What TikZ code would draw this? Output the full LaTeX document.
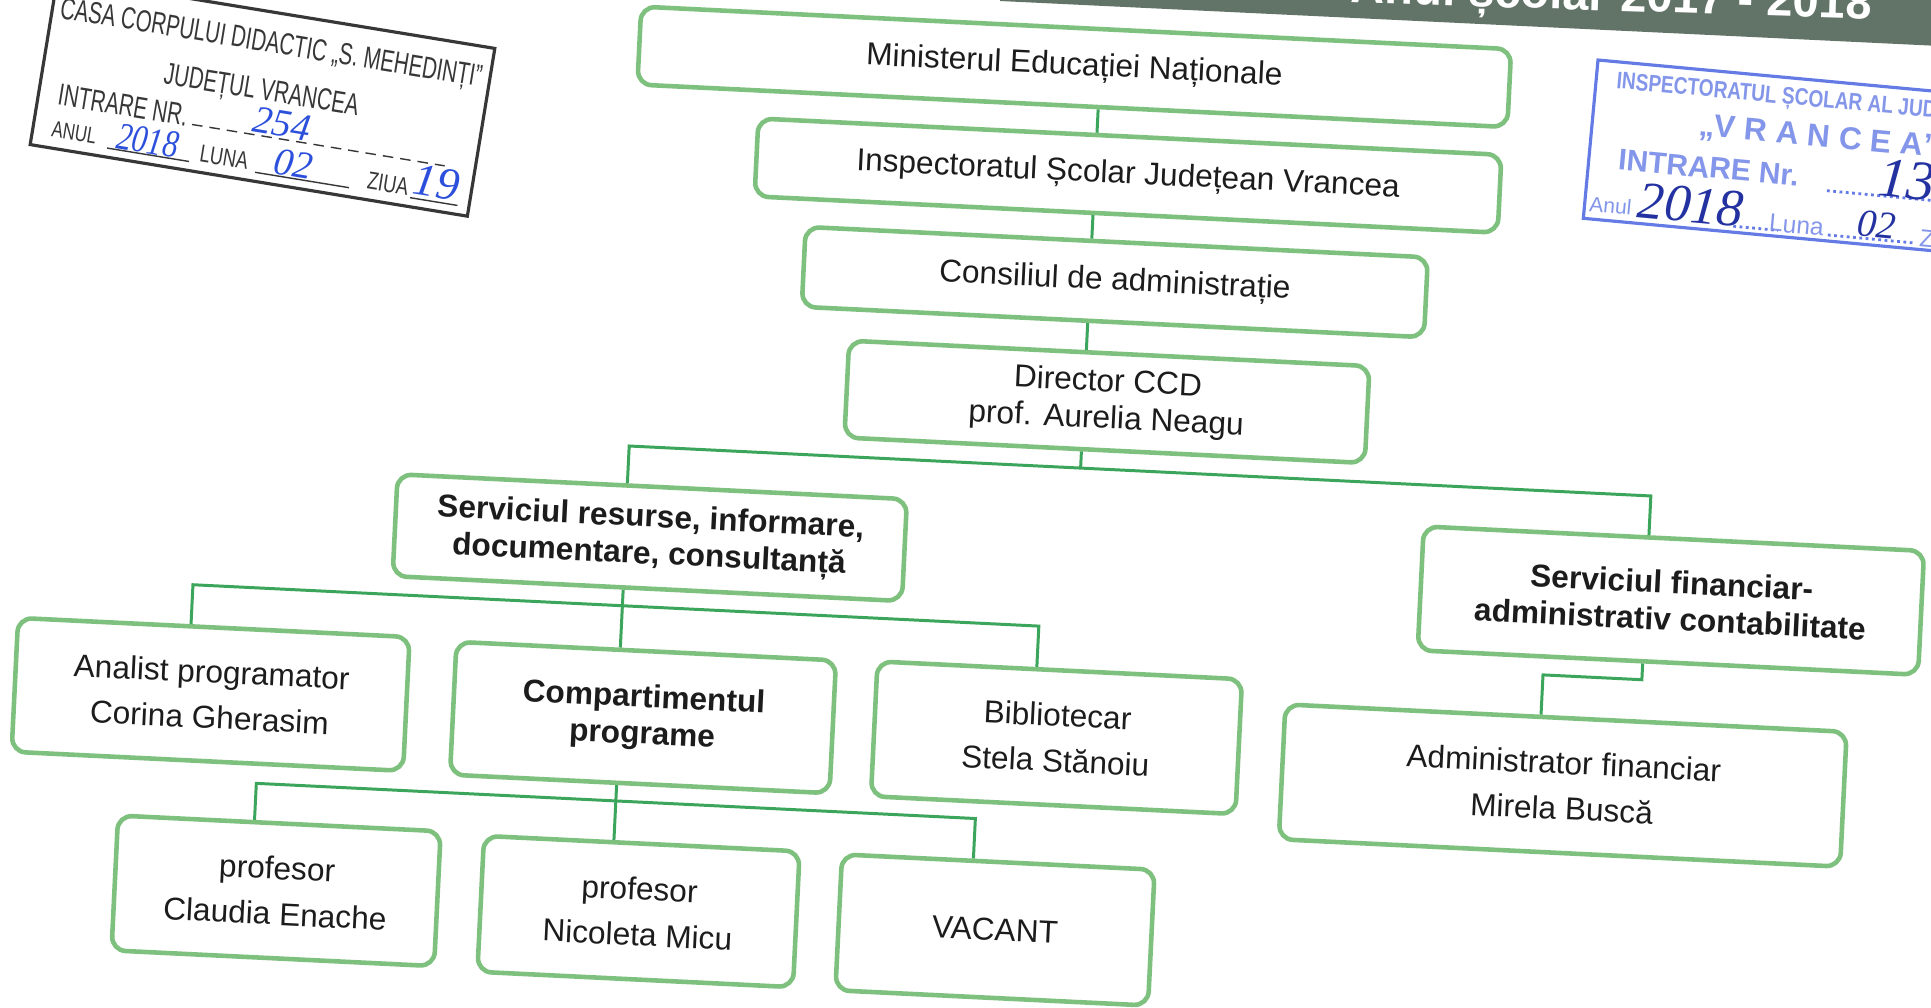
\documentclass[tikz,border=0pt]{standalone}
\usepackage{fontspec}
\setmainfont{Liberation Sans}
\newfontfamily\handfont{Liberation Serif}
\usetikzlibrary{positioning,calc}

\definecolor{boxgreen}{RGB}{126,192,126}
\definecolor{linkgreen}{RGB}{60,165,92}
\definecolor{ink}{RGB}{28,28,28}
\definecolor{bannergrey}{RGB}{98,115,104}
\definecolor{stampink}{RGB}{55,55,55}
\definecolor{stampblue}{RGB}{100,122,228}
\definecolor{stamplight}{RGB}{132,150,234}
\definecolor{penblue}{RGB}{45,80,220}
\definecolor{pendark}{RGB}{35,50,160}

\tikzset{
  box/.style={draw=boxgreen, line width=1.3pt, rounded corners=4pt, fill=white,
    align=center, inner sep=0pt, text=ink, font=\fontsize{9}{10.5}\selectfont},
  head/.style={box, font=\bfseries\fontsize{9}{10.5}\selectfont},
  person/.style={box, font=\fontsize{9}{13}\selectfont},
  link/.style={draw=linkgreen, line width=0.85pt},
  hand/.style={text=penblue, inner sep=0pt, font=\handfont\itshape\fontsize{11}{11}\selectfont},
  stamptext/.style={inner sep=0pt, font=\fontsize{8.7}{10}\selectfont, xscale=0.67},
}

\begin{document}
\begin{tikzpicture}
  \useasboundingbox (0,0) rectangle (19.31,-10.07);
  \fill[white] (0,0) rectangle (19.31,-10.07);
  \clip (0,0) rectangle (19.31,-10.07);

  % Banda de sus
  \fill[bannergrey] (10.0,0.1) -- (19.4,0.1) -- (19.4,-0.46) -- (10.0,-0.01) -- cycle;
  \node[anchor=base east, rotate=-1.8, text=white, inner sep=0pt,
    font=\bfseries\fontsize{13.4}{15}\selectfont] (an) at (18.72,-0.19) {Anul școlar 2017 - 2018};

  % Stampila CCD
  \begin{scope}[shift={(2.625,-0.965)}, rotate=-9.3, transform shape, stampink]
    \draw[line width=0.9pt] (-2.215,-0.85) rectangle (2.215,0.85);
    \node[stamptext] (c1) at (0,0.52) {CASA CORPULUI DIDACTIC „S. MEHEDINȚI”};
    \node[stamptext] (c2) at (-0.02,0.04) {JUDEȚUL VRANCEA};
    \node[stamptext, anchor=west] (c3) at (-2.02,-0.31) {INTRARE NR.};
    \draw[densely dashed] (-0.65,-0.39) -- (1.91,-0.39);
    \node[hand] (c4) at (0.24,-0.24) {254};
    \node[stamptext, font=\fontsize{6.5}{8}\selectfont, xscale=1.1] (c5) at (-1.80,-0.66) {ANUL};
    \node[stamptext, font=\fontsize{7}{8}\selectfont, xscale=1.1] (c6) at (-0.28,-0.66) {LUNA};
    \node[stamptext, font=\fontsize{7}{8}\selectfont, xscale=1.1] (c7) at (1.38,-0.66) {ZIUA};
    \draw (-1.45,-0.76) -- (-0.62,-0.76);
    \draw (0.05,-0.76) -- (1.0,-0.76);
    \draw (1.62,-0.76) -- (2.1,-0.76);
    \node[hand, xscale=0.8] (c8) at (-1.06,-0.62) {2018};
    \node[hand] (c9) at (0.42,-0.62) {02};
    \node[hand, font=\handfont\itshape\fontsize{13}{13}\selectfont] (c10) at (1.86,-0.57) {19};
  \end{scope}

  % Stampila ISJ
  \begin{scope}[shift={(15.98,-0.60)}, rotate=-5.3, transform shape, stampblue]
    \draw[line width=0.9pt] (4.3,0) -- (0,0) -- (0,-1.59) -- (4.3,-1.59);
    \node[anchor=west, inner sep=0pt, text=stamplight, xscale=0.8, font=\bfseries\fontsize{6.8}{8}\selectfont] (i1)
      at (0.20,-0.21) {INSPECTORATUL ȘCOLAR AL JUDEȚULUI};
    \node[inner sep=0pt, text=stamplight, font=\bfseries\fontsize{9}{10}\selectfont] (i2) at (2.27,-0.57) {„V R A N C E A”};
    \node[anchor=west, inner sep=0pt, text=stamplight, font=\bfseries\fontsize{8.5}{10}\selectfont] (i3) at (0.29,-0.97) {INTRARE Nr.};
    \draw[densely dotted, line width=0.8pt] (2.40,-1.09) -- (3.6,-1.09);
    \node[hand, text=pendark, font=\handfont\itshape\fontsize{16}{16}\selectfont] (i4) at (3.19,-0.91) {13};
    \node[inner sep=0pt, text=stamplight, font=\fontsize{6}{7}\selectfont] (i5) at (0.26,-1.44) {Anul};
    \draw[densely dotted, line width=0.8pt] (1.50,-1.53) -- (1.95,-1.53);
    \node[inner sep=0pt, text=stamplight, font=\fontsize{7}{8}\selectfont] (i6) at (2.13,-1.46) {Luna};
    \draw[densely dotted, line width=0.8pt] (2.45,-1.53) -- (3.3,-1.53);
    \node[anchor=west, inner sep=0pt, text=stamplight, font=\fontsize{7}{8}\selectfont] (i7) at (3.36,-1.47) {Ziua};
    \node[hand, text=pendark, font=\handfont\itshape\fontsize{15}{15}\selectfont] (i8) at (1.06,-1.36) {2018};
    \node[hand, text=pendark, font=\handfont\itshape\fontsize{11}{11}\selectfont] (i9) at (2.93,-1.38) {02};
  \end{scope}

  % Organigrama
  \begin{scope}[rotate around={-2.8:(9.65,-5)}, transform shape]
    % Casete
    \node[box, minimum width=8.71cm, minimum height=0.78cm] (min) at (10.53,-0.62) {Ministerul Educației Naționale};
    \node[box, minimum width=7.44cm, minimum height=0.78cm] (insp) at (11.12,-1.68) {Inspectoratul Școlar Județean Vrancea};
    \node[box, minimum width=6.23cm, minimum height=0.80cm] (cons) at (11.04,-2.75) {Consiliul de administrație};
    \node[box, minimum width=5.21cm, minimum height=0.97cm] (dir) at (11.02,-3.95) {Director CCD\\prof. Aurelia Neagu};
    \node[head, minimum width=5.10cm, minimum height=1.02cm] (sres) at (6.52,-5.53) {Serviciul resurse, informare,\\documentare, consultanță};
    \node[head, minimum width=5.01cm, minimum height=1.24cm] (sfin) at (16.75,-5.66) {Serviciul financiar-\\administrativ contabilitate};
    \node[person, minimum width=3.92cm, minimum height=1.34cm] (anal) at (2.21,-7.31) {Analist programator\\Corina Gherasim};
    \node[head, minimum width=3.80cm, minimum height=1.33cm] (comp) at (6.54,-7.33) {Compartimentul\\programe};
    \node[person, minimum width=3.65cm, minimum height=1.35cm] (bibl) at (10.68,-7.33) {Bibliotecar\\Stela Stănoiu};
    \node[person, minimum width=5.62cm, minimum height=1.35cm] (adm) at (15.76,-7.56) {Administrator financiar\\Mirela Buscă};
    \node[person, minimum width=3.23cm, minimum height=1.35cm] (clau) at (2.96,-9.24) {profesor\\Claudia Enache};
    \node[person, minimum width=3.16cm, minimum height=1.36cm] (nico) at (6.59,-9.27) {profesor\\Nicoleta Micu};
    \node[person, minimum width=3.13cm, minimum height=1.36cm] (vac) at (10.16,-9.28) {VACANT};

    % Puncte de ramificare
    \coordinate (ax) at (10.79,0);
    \coordinate (b1) at (10.79,-4.625);
    \coordinate (b1l) at (6.27,-4.625);
    \coordinate (b1r) at (16.50,-4.625);
    \coordinate (b2l) at (1.98,-6.224);
    \coordinate (b2m) at (6.28,-6.224);
    \coordinate (b2r) at (10.45,-6.224);
    \coordinate (b3l) at (2.71,-8.177);
    \coordinate (b3m) at (6.31,-8.177);
    \coordinate (b3r) at (9.91,-8.177);
    \coordinate (b4) at (16.50,-6.465);
    \coordinate (b4l) at (15.51,-6.465);

    % Linii de legatura
    \draw[link] (min.south -| ax) -- (insp.north -| ax);
    \draw[link] (insp.south -| ax) -- (cons.north -| ax);
    \draw[link] (cons.south -| ax) -- (dir.north -| ax);
    \draw[link] (dir.south -| b1) -- (b1);
    \draw[link] (sres.north -| b1l) |- (b1r) -- (sfin.north -| b1r);
    \draw[link] (sres.south -| b2m) -- (comp.north -| b2m);
    \draw[link] (anal.north -| b2l) |- (b2r) -- (bibl.north -| b2r);
    \draw[link] (comp.south -| b3m) -- (nico.north -| b3m);
    \draw[link] (clau.north -| b3l) |- (b3r) -- (vac.north -| b3r);
    \draw[link] (sfin.south -| b4) |- (b4l) -- (adm.north -| b4l);
  \end{scope}
\end{tikzpicture}
\end{document}
